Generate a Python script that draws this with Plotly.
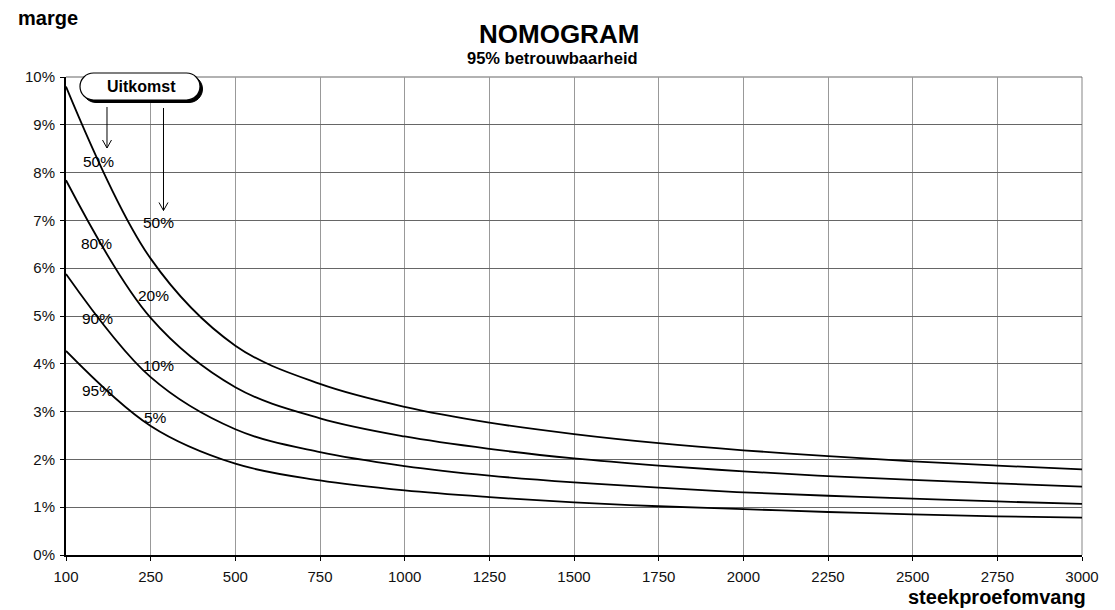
import plotly.graph_objects as go

# ---- data ----
sample_sizes = ["100", "250", "500", "750", "1000", "1250", "1500", "1750",
                "2000", "2250", "2500", "2750", "3000"]
marge_50 = [9.80, 6.20, 4.38, 3.58, 3.10, 2.77, 2.53, 2.34, 2.19, 2.07, 1.96, 1.87, 1.79]
marge_20 = [7.84, 4.96, 3.51, 2.86, 2.48, 2.22, 2.02, 1.87, 1.75, 1.65, 1.57, 1.50, 1.43]
marge_10 = [5.88, 3.72, 2.63, 2.15, 1.86, 1.66, 1.52, 1.41, 1.31, 1.24, 1.18, 1.12, 1.07]
marge_05 = [4.27, 2.70, 1.91, 1.56, 1.35, 1.21, 1.10, 1.02, 0.96, 0.90, 0.85, 0.81, 0.78]
y_ticks = list(range(0, 11))
y_tick_text = [f"{v}%" for v in y_ticks]
left_labels = ["50%", "80%", "90%", "95%"]
right_labels = ["50%", "20%", "10%", "5%"]

# page layout (body margin of 8px is accounted for)
OFF = 8
FIG_W, FIG_H = 1115 - OFF, 610 - OFF
L, R, T, B = 66, 1082, 77, 555          # plot area in page pixels
FONT = "Liberation Sans, Arial, sans-serif"


def px(x):
    return (x - L) / (R - L)


def py(y):
    return (B - y) / (B - T)


fig = go.Figure()
for series in (marge_50, marge_20, marge_10, marge_05):
    fig.add_trace(go.Scatter(
        x=sample_sizes, y=series, mode="lines",
        line=dict(color="black", width=1.8, shape="spline", smoothing=1.0),
        showlegend=False, hoverinfo="skip"))

shapes = []
shapes.append(dict(type="line", xref="paper", yref="paper", x0=1, x1=1, y0=0, y1=1,
                   line=dict(color="#999999", width=1.2), layer="below"))
shapes.append(dict(type="line", xref="paper", yref="paper", x0=0, x1=1, y0=1, y1=1,
                   line=dict(color="#666666", width=1.2), layer="below"))


def pill(l, t, r, b, dx=0.0, dy=0.0):
    rad = (b - t) / 2.0
    k = 0.5523 * rad
    l += dx; r += dx; t += dy; b += dy

    def P(x, y):
        return f"{px(x):.5f},{py(y):.5f}"
    d = f"M {P(l + rad, t)} L {P(r - rad, t)} "
    d += f"C {P(r - rad + k, t)} {P(r, t + rad - k)} {P(r, t + rad)} "
    d += f"C {P(r, b - rad + k)} {P(r - rad + k, b)} {P(r - rad, b)} "
    d += f"L {P(l + rad, b)} "
    d += f"C {P(l + rad - k, b)} {P(l, b - rad + k)} {P(l, b - rad)} "
    d += f"C {P(l, t + rad - k)} {P(l + rad - k, t)} {P(l + rad, t)} Z"
    return d


shapes.append(dict(type="path", xref="paper", yref="paper", path=pill(80, 73, 200, 100, 2.5, 2.5),
                   fillcolor="black", line=dict(color="black", width=1), layer="above"))
shapes.append(dict(type="path", xref="paper", yref="paper", path=pill(80, 73, 200, 100),
                   fillcolor="white", line=dict(color="black", width=1.2), layer="above"))


def arrow(x, y0, y1):
    return (f"M {px(x):.5f},{py(y0):.5f} L {px(x):.5f},{py(y1):.5f} "
            f"M {px(x - 4.5):.5f},{py(y1 - 8):.5f} L {px(x):.5f},{py(y1):.5f} "
            f"L {px(x + 4.5):.5f},{py(y1 - 8):.5f}")


shapes.append(dict(type="path", xref="paper", yref="paper", path=arrow(107, 107, 148),
                   line=dict(color="black", width=1), layer="above"))
shapes.append(dict(type="path", xref="paper", yref="paper", path=arrow(163.5, 108, 210.5),
                   line=dict(color="black", width=1), layer="above"))

ann = []


def text(x, y, s, size=15, bold=False, xanchor="center"):
    ann.append(dict(xref="paper", yref="paper", x=px(x), y=py(y), text=(f"<b>{s}</b>" if bold else s),
                    showarrow=False, xanchor=xanchor, yanchor="middle",
                    font=dict(family=FONT, size=size, color="black")))


text(141, 86.5, "Uitkomst", 16, True)
for lab, (x, y) in zip(left_labels, [(98, 161), (96, 243.5), (97, 318.5), (97.5, 390)]):
    text(x, y, lab, 15.5)
for lab, (x, y) in zip(right_labels, [(158, 222), (153, 295), (158.5, 365), (155, 417.5)]):
    text(x, y, lab, 15.5)

text(16, 18, "marge", 20, True, "left")
text(558.5, 33.5, "NOMOGRAM", 26, True)
text(552, 58.5, "95% betrouwbaarheid", 16.5, True)
text(1088, 597, "steekproefomvang", 20, True, "right")

fig.update_layout(
    width=FIG_W, height=FIG_H,
    margin=dict(l=L - OFF, r=FIG_W - (R - OFF), t=T - OFF, b=FIG_H - (B - OFF), pad=0),
    paper_bgcolor="white", plot_bgcolor="white",
    font=dict(family=FONT, size=15, color="black"),
    shapes=shapes, annotations=ann,
    xaxis=dict(type="category", range=[0, 12], showgrid=True, gridcolor="#999999", gridwidth=1.2,
               showline=True, linecolor="black", linewidth=2, ticks="outside", ticklen=4,
               tickcolor="black", tickwidth=1, zeroline=False, ticklabelstandoff=3,
               tickfont=dict(family=FONT, size=15, color="#111111")),
    yaxis=dict(range=[0, 10], tickmode="array", tickvals=y_ticks, ticktext=y_tick_text,
               showgrid=True, gridcolor="#666666",
               gridwidth=1.2, showline=True, linecolor="black", linewidth=2, ticks="outside",
               ticklen=4, tickcolor="black", zeroline=False, ticklabelstandoff=2,
               tickfont=dict(family=FONT, size=15, color="#111111")),
)

fig.write_html("out.html")
